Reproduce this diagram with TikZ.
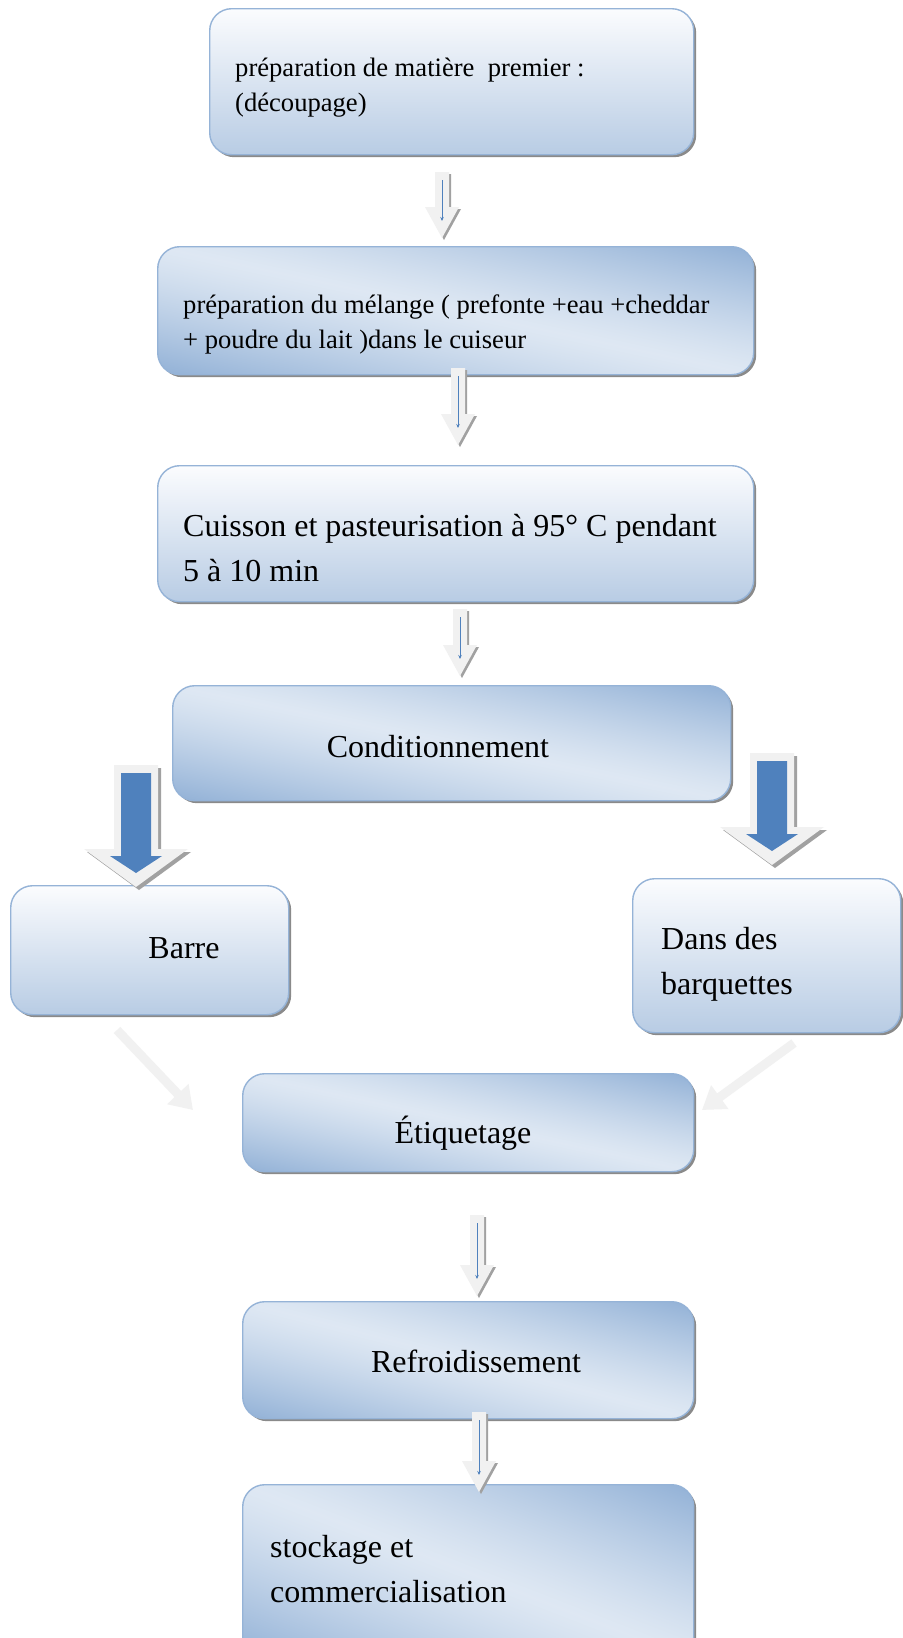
\documentclass[tikz,border=0pt]{standalone}
\usepackage{fontspec}
\setmainfont{Liberation Serif}
\usetikzlibrary{arrows.meta,shadows,calc}
\definecolor{bord}{HTML}{95B3D7}
\definecolor{bsoft}{HTML}{B8CCE4}
\definecolor{bwhite}{HTML}{FBFCFE}
\definecolor{shad}{HTML}{8A8A8A}
\definecolor{alight}{HTML}{F1F1F1}
\definecolor{ablue}{HTML}{4F81BD}
% blue corners (bottom-left, top-right), light band along the other diagonal
\pgfdeclarefunctionalshading{diagband}{\pgfpoint{0bp}{0bp}}{\pgfpoint{100bp}{100bp}}{}{
  add 100 sub abs 48 div dup 1 gt {pop 1} if 1.25 exp
  dup -0.285 mul 0.870 add exch
  dup -0.205 mul 0.908 add exch
  -0.108 mul 0.953 add
}
\tikzset{
  box/.style={draw=bord, line width=1.4pt, rounded corners=22pt, inner sep=0pt, anchor=north west,
    drop shadow={shadow xshift=2.5pt, shadow yshift=-2.5pt, fill=shad, opacity=1}},
  vgrad/.style={box, top color=bwhite, bottom color=bsoft},
  dgrad/.style={box, shade, shading=diagband},
  txs/.style={font=\fontsize{26.6}{35}\selectfont, align=left, inner sep=0pt, anchor=west},
  txl/.style={font=\fontsize{32}{45}\selectfont, align=left, inner sep=0pt, anchor=west},
  txc/.style={font=\fontsize{32}{45}\selectfont, inner sep=0pt, anchor=base},
  diagarrow/.style={draw=alight, line width=9pt, -{Triangle[width=28pt,length=22pt]}},
}
\newcommand\hollowarrow[2]{%
  \fill[shad!80] let \p1=(#1),\p2=(#2) in
    (\x1-5pt,\y1-2pt) -- (\x1+9pt,\y1-2pt) -- (\x1+9pt,\y2+29pt) -- (\x1+19pt,\y2+29pt)
    -- (\x1+2pt,\y2-2pt) -- (\x1-15pt,\y2+29pt) -- (\x1-5pt,\y2+29pt) -- cycle;
  \fill[alight] let \p1=(#1),\p2=(#2) in
    (\x1-7pt,\y1) -- (\x1+7pt,\y1) -- (\x1+7pt,\y2+31pt) -- (\x1+17pt,\y2+31pt)
    -- (\x1,\y2) -- (\x1-17pt,\y2+31pt) -- (\x1-7pt,\y2+31pt) -- cycle;
  \draw[ablue, line width=1pt, -{Stealth[length=4pt,width=3.5pt]}] let \p1=(#1),\p2=(#2) in
    (\x1,\y1-8pt) -- (\x1,\y2+17pt);
}
\newcommand\bigarrow[2]{%
  \fill[shad!80] let \p1=(#1),\p2=(#2) in
    (\x1-19pt,\y1-3pt) -- (\x1+25pt,\y1-3pt) -- (\x1+25pt,\y2+35pt) -- (\x1+55pt,\y2+35pt)
    -- (\x1+3pt,\y2-3pt) -- (\x1-49pt,\y2+35pt) -- (\x1-19pt,\y2+35pt) -- cycle;
  \fill[alight] let \p1=(#1),\p2=(#2) in
    (\x1-22pt,\y1) -- (\x1+22pt,\y1) -- (\x1+22pt,\y2+38pt) -- (\x1+52pt,\y2+38pt)
    -- (\x1,\y2) -- (\x1-52pt,\y2+38pt) -- (\x1-22pt,\y2+38pt) -- cycle;
  \fill[ablue] let \p1=(#1),\p2=(#2) in
    (\x1-15pt,\y1-8pt) -- (\x1+15pt,\y1-8pt) -- (\x1+15pt,\y2+31pt) -- (\x1+26pt,\y2+31pt)
    -- (\x1,\y2+14pt) -- (\x1-26pt,\y2+31pt) -- (\x1-15pt,\y2+31pt) -- cycle;
}
\begin{document}
\begin{tikzpicture}[x=1pt,y=-1pt]
\useasboundingbox[fill=white] (0,0) rectangle (902,1638);

% boxes
\node[vgrad, minimum width=484pt, minimum height=146pt] (b1) at (209,8) {};
\node[dgrad, minimum width=596pt, minimum height=128pt] (b2) at (157,246) {};
\node[vgrad, minimum width=596pt, minimum height=136pt] (b3) at (157,465) {};
\node[dgrad, minimum width=558pt, minimum height=115pt] (b4) at (172,685) {};
\node[vgrad, minimum width=278pt, minimum height=129pt] (b5) at (10,885) {};
\node[vgrad, minimum width=268pt, minimum height=154pt] (b6) at (632,878) {};
\node[dgrad, minimum width=451pt, minimum height=98pt] (b7) at (242,1073) {};
\node[dgrad, minimum width=451pt, minimum height=117pt] (b8) at (242,1301) {};
\node[dgrad, minimum width=451pt, minimum height=175pt] (b9) at (242,1484) {};

% texts
\node[txs] (t1) at (235,88) {préparation de matière~~premier :\\(découpage)};
\node[txs] (t2) at (183,324) {préparation du mélange ( prefonte +eau +cheddar\\+ poudre du lait )dans le cuiseur};
\node[txl] (t3) at (183,548) {Cuisson et pasteurisation à 95° C pendant\\5 à 10 min};
\node[txc] (t4) at (438,757) {Conditionnement};
\node[txc] (t5) at (184,958) {Barre};
\node[txl] (t6) at (661,964) {Dans des\\barquettes};
\node[txc] (t7) at (463,1143) {Étiquetage};
\node[txc] (t8) at (476,1372) {Refroidissement};
\node[txl] (t9) at (270,1569) {stockage et\\commercialisation};

% connector end points
\coordinate (a1s) at (442,172); \coordinate (a1e) at (442,238);
\coordinate (a2s) at (458,368); \coordinate (a2e) at (458,445);
\coordinate (a3s) at (460,609); \coordinate (a3e) at (460,676);
\coordinate (a4s) at (477,1215); \coordinate (a4e) at (477,1296);
\coordinate (a5s) at (479,1412); \coordinate (a5e) at (479,1492);
\coordinate (g1s) at (136,765); \coordinate (g1e) at (136,887);
\coordinate (g2s) at (772,753); \coordinate (g2e) at (772,865);
\coordinate (d1s) at (117,1030); \coordinate (d1e) at (193,1110);
\coordinate (d2s) at (794,1043); \coordinate (d2e) at (702,1110);

\hollowarrow{a1s}{a1e}
\hollowarrow{a2s}{a2e}
\hollowarrow{a3s}{a3e}
\hollowarrow{a4s}{a4e}
\hollowarrow{a5s}{a5e}
\bigarrow{g1s}{g1e}
\bigarrow{g2s}{g2e}
\draw[diagarrow] (d1s) -- (d1e);
\draw[diagarrow] (d2s) -- (d2e);
\end{tikzpicture}
\end{document}
